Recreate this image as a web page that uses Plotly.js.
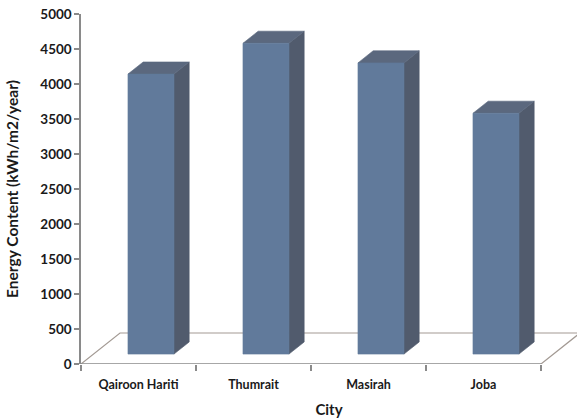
<!DOCTYPE html>
<html>
<head>
<meta charset="utf-8">
<script src="https://cdn.plot.ly/plotly-3.0.1.min.js"></script>
<style>
  html, body { margin: 0; padding: 0; background: #ffffff; }
  #chart { width: 577px; height: 418px; }
</style>
</head>
<body>
<div id="chart"></div>
<script>
// Annual solar energy content per city
const cities = ['Qairoon Hariti', 'Thumrait', 'Masirah', 'Joba'];
const energy = [4000, 4440, 4160, 3440];
const yTicks = [0, 500, 1000, 1500, 2000, 2500, 3000, 3500, 4000, 4500, 5000];

// Oblique projection used for the pseudo-3D look:
// one unit of depth shifts a point right (in category units) and up (in value units).
const DEPTH_DX = 0.339;
const DEPTH_DY = 443;
const Z_FRONT = 0.32, Z_BACK = 0.71;   // depth span of each column
const HALF_W = 0.2;                    // half column width, category units

const COL_FRONT = '#617a9b';
const COL_SIDE = '#515b6d';
const COL_TOP = '#5b687e';
const AXIS_COL = '#8a8a8a';
const FLOOR_COL = '#a39a94';

function proj(x, y, z) {
  return [x + z * DEPTH_DX, y + z * DEPTH_DY];
}

function poly(points, fill) {
  const pts = points.map(p => proj(p[0], p[1], p[2]));
  pts.push(pts[0]);
  return {
    type: 'scatter', mode: 'lines',
    x: pts.map(p => p[0]), y: pts.map(p => p[1]),
    fill: 'toself', fillcolor: fill,
    line: { color: fill, width: 0.6 },
    hoverinfo: 'skip', showlegend: false
  };
}

const traces = [];

// floor outline
const nCat = cities.length;
const xl = -0.5, xr = nCat - 0.5;
const floorPts = [[xl, 0, 0], [xl, 0, 1], [xr, 0, 1], [xr, 0, 0]].map(p => proj(p[0], p[1], p[2]));
traces.push({
  type: 'scatter', mode: 'lines',
  x: floorPts.map(p => p[0]), y: floorPts.map(p => p[1]),
  line: { color: FLOOR_COL, width: 1.2 },
  hoverinfo: 'skip', showlegend: false
});
// front edge of the floor doubles as the category axis line
traces.push({
  type: 'scatter', mode: 'lines',
  x: [xl, xr], y: [0, 0],
  line: { color: AXIS_COL, width: 1.6 },
  hoverinfo: 'skip', showlegend: false
});

// columns: side, top, front faces
energy.forEach((v, i) => {
  const a = i - HALF_W, b = i + HALF_W;
  traces.push(poly([[b, 0, Z_FRONT], [b, 0, Z_BACK], [b, v, Z_BACK], [b, v, Z_FRONT]], COL_SIDE));
  traces.push(poly([[a, v, Z_FRONT], [a, v, Z_BACK], [b, v, Z_BACK], [b, v, Z_FRONT]], COL_TOP));
  traces.push(poly([[a, 0, Z_FRONT], [b, 0, Z_FRONT], [b, v, Z_FRONT], [a, v, Z_FRONT]], COL_FRONT));
});

const FONT = 'Lato, "Open Sans", "DejaVu Sans", sans-serif';

const layout = {
  width: 577, height: 418,
  margin: { l: 81, r: 0, t: 14, b: 54 },
  paper_bgcolor: '#ffffff', plot_bgcolor: '#ffffff',
  font: { family: FONT, color: '#1a1a1a' },
  showlegend: false,
  xaxis: {
    range: [-0.5, 3.813],
    showgrid: false, zeroline: false, showline: false,
    tickmode: 'array',
    tickvals: cities.map((c, i) => i),
    ticktext: cities,
    ticks: '',
    ticklabelstandoff: 11,
    tickfont: { family: FONT, size: 12.5, color: '#1a1a1a', weight: 'bold' },
    minor: { tickmode: 'linear', tick0: -0.5, dtick: 1, ticks: 'outside', ticklen: 6, tickwidth: 1.4, tickcolor: AXIS_COL, showgrid: false },
    title: { text: 'City', font: { family: FONT, size: 15, color: '#1a1a1a', weight: 'bold' }, standoff: 14 },
    fixedrange: true
  },
  yaxis: {
    range: [0, 5000],
    tickmode: 'array', tickvals: yTicks,
    showgrid: false, zeroline: false,
    showline: true, linecolor: AXIS_COL, linewidth: 1.6,
    ticks: 'outside', ticklen: 5, tickwidth: 1.4, tickcolor: AXIS_COL,
    tickfont: { family: FONT, size: 13.5, color: '#1a1a1a', weight: 'bold' },
    title: { text: 'Energy Content (kWh/m2/year)', font: { family: FONT, size: 15.5, color: '#1a1a1a', weight: 'bold' }, standoff: 18 },
    fixedrange: true
  }
};

Plotly.newPlot('chart', traces, layout, { staticPlot: true, displayModeBar: false });
</script>
</body>
</html>
